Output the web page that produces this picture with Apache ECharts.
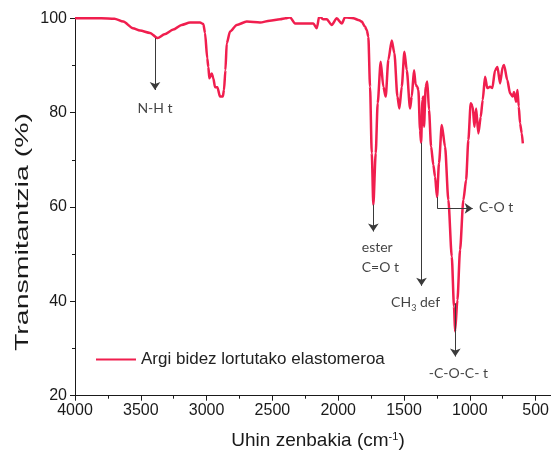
<!DOCTYPE html>
<html>
<head>
<meta charset="utf-8">
<script src="https://cdn.jsdelivr.net/npm/echarts@6/dist/echarts.min.js"></script>
<style>
  html, body { margin: 0; padding: 0; background: #ffffff; }
  #chart { width: 551px; height: 459px; }
</style>
</head>
<body>
<div id="chart"></div>
<script>
// FTIR spectrum: wavenumber (cm-1) and transmittance (%)
const wavenumbers = [4000, 3900, 3800, 3700, 3633, 3560, 3506, 3430, 3372, 3320, 3253, 3190, 3126, 3050, 3025, 3012, 2995, 2987, 2979, 2961, 2949, 2936, 2918, 2898, 2877, 2868, 2857, 2847, 2822, 2771, 2695, 2594, 2520, 2442, 2400, 2366, 2328, 2250, 2189, 2163, 2143, 2115, 2087, 2049, 2011, 1973, 1948, 1885, 1840, 1821, 1796, 1783, 1771, 1758, 1745, 1733, 1715, 1700, 1677, 1657, 1639, 1619, 1593, 1573, 1550, 1535, 1517, 1497, 1479, 1454, 1441, 1424, 1411, 1399, 1391, 1378, 1370, 1360, 1353, 1348, 1335, 1323, 1310, 1294, 1277, 1264, 1249, 1234, 1213, 1188, 1163, 1137, 1120, 1112, 1094, 1074, 1049, 1028, 1011, 993, 978, 965, 952, 935, 917, 902, 884, 867, 846, 829, 808, 790, 770, 750, 740, 715, 694, 674, 664, 648, 638, 628, 618, 605, 597];
const transmittance = [100, 100, 100, 99.9, 99.3, 97.9, 97.4, 96.9, 95.8, 96.6, 97.6, 98.6, 99.1, 99.1, 98.8, 96.9, 91.5, 89.7, 87.3, 88.3, 87.3, 85.4, 85.4, 83.4, 83.4, 84.8, 89, 94.7, 97.2, 98.6, 99.3, 99.1, 99.5, 99.8, 100, 100.2, 98.9, 98.9, 98.9, 97.9, 100.5, 99.8, 99.8, 98.6, 100, 98.9, 100.2, 100, 99.6, 99.3, 98.2, 97.5, 96.1, 85.5, 71.4, 60.5, 71.4, 82, 90.8, 85.5, 83.4, 91.2, 95.3, 92.6, 83.4, 80.9, 85.5, 92.9, 89, 80.9, 83.4, 89, 85.9, 85.5, 84.8, 76.3, 73.6, 82.7, 83.4, 77, 85.5, 86.6, 80.6, 72.8, 68.9, 66.4, 62.1, 69.3, 77.4, 72.8, 61.5, 49.5, 38.9, 33.6, 40.3, 50.9, 61.5, 65.7, 74.2, 82, 81.3, 77, 80.9, 75.6, 79.1, 82.7, 87.6, 85.2, 85.5, 85.2, 89, 89.7, 86.2, 89.7, 90.1, 86.9, 84.1, 83.4, 84.4, 82.3, 84.8, 81.3, 77.7, 75.6, 73.5];
const seriesName = 'Argi bidez lortutako elastomeroa';

// Axis ranges and tick spacing
const xTicks = { min: 0, max: 4000, interval: 500 };
const yTicks = { min: 20, max: 100, interval: 20 };

// Band assignments: arrows (start -> tip) in data units
const arrowStarts = [[3392, 95.8], [1733, 60.5], [1367, 73.6], [1110, 39.6], [1247, 59.7]];
const arrowTips   = [[3392, 84.8], [1733, 54.8], [1367, 43.3], [1110, 28.3], [978, 59.7]];
// plain connector (no head) for the C-O band
const connectorFrom = [[1247, 62.1]];
const connectorTo   = [[1247, 59.7]];

// Band label texts and anchor points
const bandLabels = ['N-H t', 'ester\nC=O t', '{n|CH}{sub|3}{n| def}', '-C-O-C- t', 'C-O t'];
const bandLabelWn = [3392, 1821, 1412, 1087, 930];
const bandLabelT  = [80.9, 49.4, 39.7, 24.7, 60.0];
const bandLabelAlign = ['center', 'left', 'center', 'center', 'left'];

const chart = echarts.init(document.getElementById('chart'), null, { renderer: 'canvas' });

const axisColor = '#1a1a1a';
const arrowColor = '#3a3a3a';

const option = {
  animation: false,
  backgroundColor: '#ffffff',
  grid: {
    left: 75, top: 18.3, bottom: 63.3, right: -50.4,
    containLabel: false, outerBoundsMode: 'none'
  },
  legend: {
    data: [seriesName],
    left: 91, top: 346,
    icon: 'rect', itemWidth: 40, itemHeight: 2,
    textStyle: { fontFamily: 'Liberation Sans', fontSize: 17, color: '#222' }
  },
  xAxis: {
    type: 'value', inverse: true,
    min: xTicks.min, max: xTicks.max, interval: xTicks.interval,
    axisLine: { show: true, onZero: false, lineStyle: { color: axisColor, width: 1 } },
    axisTick: { show: true, inside: false, length: 5, lineStyle: { color: axisColor } },
    minorTick: { show: true, splitNumber: 2, length: 3, lineStyle: { color: axisColor } },
    axisLabel: {
      fontFamily: 'Liberation Sans', fontSize: 16, color: axisColor, margin: 7,
      formatter: (v) => String(v)
    },
    splitLine: { show: false }
  },
  yAxis: {
    type: 'value',
    min: yTicks.min, max: yTicks.max, interval: yTicks.interval,
    axisLine: { show: true, onZero: false, lineStyle: { color: axisColor, width: 1 } },
    axisTick: { show: true, inside: false, length: 5, lineStyle: { color: axisColor } },
    minorTick: { show: true, splitNumber: 2, length: 3, lineStyle: { color: axisColor } },
    axisLabel: {
      fontFamily: 'Liberation Sans', fontSize: 16, color: axisColor, margin: 8,
      formatter: (v) => String(v)
    },
    splitLine: { show: false }
  },
  graphic: [
    {
      type: 'text', x: 23, y: 232, rotation: Math.PI / 2, scaleX: 1.5,
      style: {
        text: 'Transmitantzia (%)', fontFamily: 'Liberation Sans', fontSize: 19,
        fill: axisColor, align: 'center', verticalAlign: 'middle'
      }
    },
    {
      type: 'text', x: 318, y: 441,
      style: {
        text: '{t|Uhin zenbakia (cm}{s|-1}{t|)}',
        align: 'center', verticalAlign: 'middle',
        rich: {
          t: { fontFamily: 'Liberation Sans', fontSize: 19, fill: axisColor, color: axisColor },
          s: { fontFamily: 'Liberation Sans', fontSize: 11, fill: axisColor, color: axisColor, verticalAlign: 'top' }
        }
      }
    }
  ],
  series: [
    {
      name: seriesName,
      type: 'line',
      data: wavenumbers.map((w, i) => [w, transmittance[i]]),
      showSymbol: false, symbol: 'none',
      smooth: 0.25, smoothMonotone: 'x',
      lineStyle: { color: '#f01e4e', width: 2.5 },
      itemStyle: { color: '#f01e4e' },
      z: 3
    },
    {
      type: 'lines', coordinateSystem: 'cartesian2d',
      symbol: ['none', 'arrow'], symbolSize: [0, 8],
      lineStyle: { color: arrowColor, width: 1, opacity: 1, curveness: 0 },
      data: arrowStarts.map((s, i) => ({ coords: [s, arrowTips[i]] })),
      silent: true, z: 4
    },
    {
      type: 'lines', coordinateSystem: 'cartesian2d',
      symbol: 'none',
      lineStyle: { color: arrowColor, width: 1, opacity: 1, curveness: 0 },
      data: connectorFrom.map((s, i) => ({ coords: [s, connectorTo[i]] })),
      silent: true, z: 4
    },
    {
      type: 'scatter',
      symbolSize: 0,
      silent: true,
      data: bandLabels.map((t, i) => ({
        value: [bandLabelWn[i], bandLabelT[i]],
        label: { formatter: t, align: bandLabelAlign[i] }
      })),
      label: {
        show: true, position: 'inside',
        fontFamily: 'Lato', fontSize: 14, color: '#111', lineHeight: 20,
        rich: {
          n: { fontFamily: 'Lato', fontSize: 14, color: '#111' },
          sub: { fontFamily: 'Lato', fontSize: 9, color: '#111', verticalAlign: 'bottom', padding: [6, 0, 0, 0] }
        }
      },
      z: 5
    }
  ]
};

chart.setOption(option);
</script>
</body>
</html>
